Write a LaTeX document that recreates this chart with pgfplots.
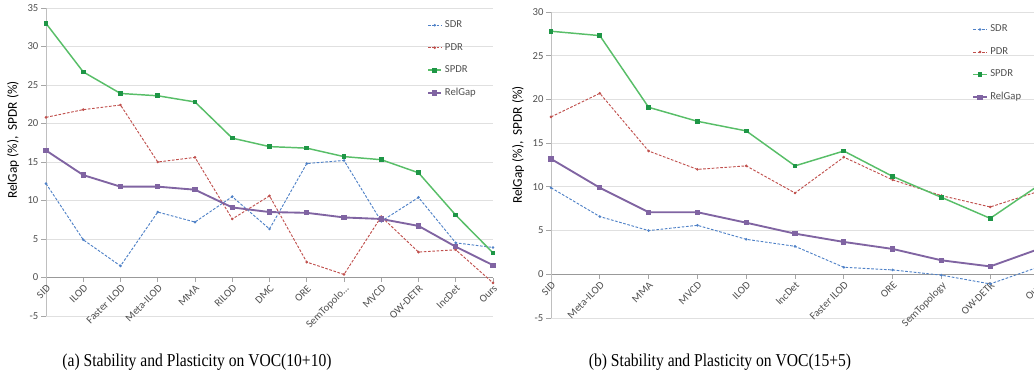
\documentclass[border=0pt]{standalone}
\usepackage{fontspec}
\setmainfont{Carlito}
\newfontfamily\capfont{Liberation Serif}
\usepackage{graphicx}
\usepackage{pgfplots}
\pgfplotsset{compat=1.18}
\definecolor{sdr}{RGB}{79,129,199}
\definecolor{pdr}{RGB}{192,80,77}
\definecolor{spdr}{RGB}{88,190,104}
\definecolor{spdrm}{RGB}{30,150,70}
\definecolor{relg}{RGB}{128,100,162}
\definecolor{labgray}{RGB}{80,80,80}
\pgfplotsset{
  mystyle/.style={
    scale only axis,
    axis x line*=middle,
    axis y line*=left,
    hide obscured x ticks=false,
    enlargelimits=false,
    ymin=-5,
    ytick={-5,0,5,10,15,20,25,30,35},
    ymajorgrids,
    grid style={draw=black!12, line width=0.6pt},
    x axis line style={draw=black!40, line width=0.7pt},
    y axis line style={draw=black!25, line width=0.6pt},
    tick style={draw=black!35, line width=0.6pt},
    tick align=outside,
    major tick length=3.5pt,
    ticklabel style={font=\fontsize{8}{9}\selectfont, text=labgray},
    /pgf/number format/assume math mode=true,
    xticklabel style={rotate=45, anchor=north east, inner sep=1pt},
    yticklabel style={inner sep=2pt},
    ylabel={RelGap (\%),\ \ SPDR (\%)},
    ylabel style={font=\fontsize{9}{10}\selectfont, text=labgray},
    legend style={draw=none, fill=none, font=\fontsize{8}{9}\selectfont, text=labgray,
      row sep=6.2pt, anchor=north west, cells={anchor=west}, inner sep=0pt},
    legend image code/.code={\draw[mark repeat=2,mark phase=2,#1] plot coordinates {(0pt,0pt) (5pt,0pt) (10pt,0pt)};},
  },
  sdrs/.style={color=sdr, line width=0.7pt, dash pattern=on 2pt off 1.2pt, mark=*, mark size=0.6pt, mark options={solid}},
  pdrs/.style={color=pdr, line width=0.7pt, dash pattern=on 2pt off 1.2pt, mark=*, mark size=0.6pt, mark options={solid}},
  spdrs/.style={color=spdr, line width=1.1pt, mark=square*, mark size=1.2pt, mark options={solid, fill=spdrm, draw=spdrm}},
  relgs/.style={color=relg, line width=1.4pt, mark=square*, mark size=1.3pt, mark options={solid}},
}
\begin{document}
\begin{tikzpicture}
% ---------------- (a) VOC(10+10) ----------------
\begin{axis}[mystyle,
  at={(34.5pt,50.25pt)}, anchor=south west,
  width=335.25pt, height=231pt,
  xmin=0, xmax=12, ymax=35,
  xtick={0,1,2,3,4,5,6,7,8,9,10,11,12},
  xticklabels={SID,ILOD,Faster ILOD,Meta-ILOD,MMA,RILOD,DMC,ORE,{SemTopolo\ldots},MVCD,OW-DETR,IncDet,Ours},
  every axis y label/.style={at={(rel axis cs:0,0.571)}, xshift=-24.75pt, rotate=90, anchor=center},
  legend style={at={(rel axis cs:0.852,0.968)}},
]
\addplot[sdrs] coordinates {(0,12.2) (1,4.9) (2,1.5) (3,8.5) (4,7.2) (5,10.5) (6,6.3) (7,14.8) (8,15.2) (9,7.3) (10,10.4) (11,4.5) (12,3.9)};
\addlegendentry{SDR}
\addplot[pdrs] coordinates {(0,20.8) (1,21.8) (2,22.4) (3,15.0) (4,15.6) (5,7.6) (6,10.6) (7,2.0) (8,0.4) (9,7.9) (10,3.3) (11,3.6) (12,-0.7)};
\addlegendentry{PDR}
\addplot[spdrs] coordinates {(0,33.0) (1,26.7) (2,23.9) (3,23.6) (4,22.8) (5,18.1) (6,17.0) (7,16.8) (8,15.7) (9,15.3) (10,13.6) (11,8.1) (12,3.2)};
\addlegendentry{SPDR}
\addplot[relgs] coordinates {(0,16.5) (1,13.3) (2,11.8) (3,11.8) (4,11.4) (5,9.1) (6,8.5) (7,8.4) (8,7.8) (9,7.6) (10,6.7) (11,4.0) (12,1.6)};
\addlegendentry{RelGap}
\end{axis}
% ---------------- (b) VOC(15+5) ----------------
\begin{axis}[mystyle,
  at={(413.25pt,48.75pt)}, anchor=south west,
  width=366pt, height=229.5pt,
  xmin=0, xmax=10, ymax=30,
  ytick={-5,0,5,10,15,20,25,30},
  xtick={0,1,2,3,4,5,6,7,8,9,10},
  xticklabels={SID,Meta-ILOD,MMA,MVCD,ILOD,IncDet,Faster ILOD,ORE,SemTopology,OW-DETR,Ours},
  every axis y label/.style={at={(rel axis cs:0,0.565)}, xshift=-24.75pt, rotate=90, anchor=center},
  legend style={at={(rel axis cs:0.863,0.967)}},
]
\addplot[sdrs] coordinates {(0,9.9) (1,6.6) (2,5.0) (3,5.6) (4,4.0) (5,3.2) (6,0.8) (7,0.5) (8,-0.1) (9,-1.1) (10,0.85)};
\addlegendentry{SDR}
\addplot[pdrs] coordinates {(0,18.0) (1,20.7) (2,14.1) (3,12.0) (4,12.4) (5,9.3) (6,13.4) (7,10.8) (8,9.0) (9,7.7) (10,9.5)};
\addlegendentry{PDR}
\addplot[spdrs] coordinates {(0,27.8) (1,27.3) (2,19.1) (3,17.5) (4,16.4) (5,12.4) (6,14.1) (7,11.2) (8,8.8) (9,6.4) (10,10.2)};
\addlegendentry{SPDR}
\addplot[relgs] coordinates {(0,13.2) (1,9.9) (2,7.1) (3,7.1) (4,5.9) (5,4.65) (6,3.7) (7,2.9) (8,1.6) (9,0.9) (10,2.9)};
\addlegendentry{RelGap}
\end{axis}
% captions
\node[font=\capfont\fontsize{13.6}{15}\selectfont, anchor=center, inner sep=0pt] at (147.75pt,15.75pt) {\scalebox{0.86}[1]{(a) Stability and Plasticity on VOC(10+10)}};
\node[font=\capfont\fontsize{13.6}{15}\selectfont, anchor=center, inner sep=0pt] at (540pt,15.75pt) {\scalebox{0.86}[1]{(b) Stability and Plasticity on VOC(15+5)}};
\pgfresetboundingbox
\path[use as bounding box] (0pt,0pt) rectangle (775.5pt,287.25pt);
\end{tikzpicture}
\end{document}
